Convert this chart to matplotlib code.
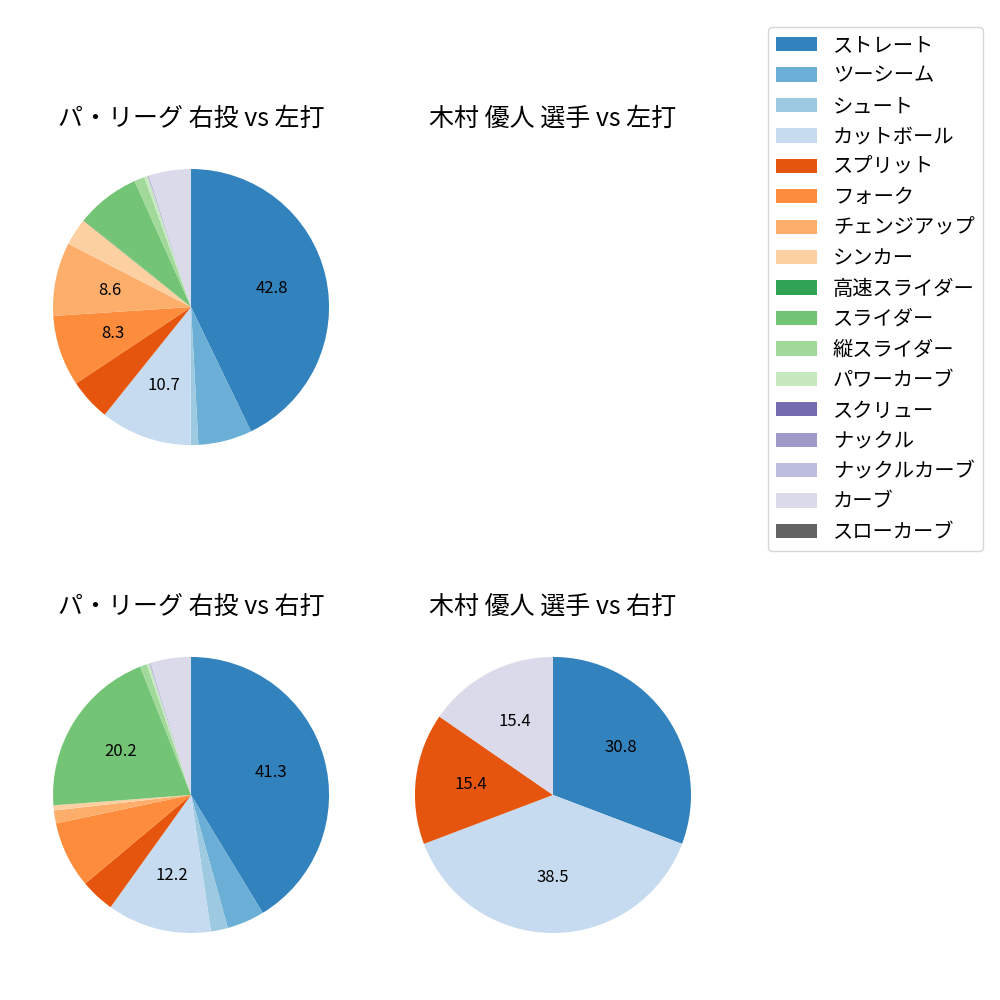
import matplotlib.pyplot as plt
from matplotlib.patches import Patch

plt.rcParams["font.family"] = ["Noto Sans CJK JP", "DejaVu Sans"]

pitch_types = [
    "ストレート", "ツーシーム", "シュート", "カットボール", "スプリット",
    "フォーク", "チェンジアップ", "シンカー", "高速スライダー", "スライダー",
    "縦スライダー", "パワーカーブ", "スクリュー", "ナックル", "ナックルカーブ",
    "カーブ", "スローカーブ",
]

# percentages (order follows pitch_types)
league_vs_left = [42.8, 6.3, 0.9, 10.7, 4.9, 8.3, 8.6, 3.2, 0.1, 7.4,
                  1.2, 0.4, 0.0, 0.0, 0.2, 4.9, 0.0]
player_vs_left = [0] * 17
league_vs_right = [41.3, 4.4, 2.0, 12.2, 4.0, 7.8, 1.5, 0.6, 0.0, 20.2,
                   0.8, 0.3, 0.0, 0.0, 0.2, 4.7, 0.0]
player_vs_right = [4, 0, 0, 5, 2, 0, 0, 0, 0, 0, 0, 0, 0, 0, 0, 2, 0]

titles = [
    "パ・リーグ 右投 vs 左打", "木村 優人 選手 vs 左打",
    "パ・リーグ 右投 vs 右打", "木村 優人 選手 vs 右打",
]
series = [league_vs_left, player_vs_left, league_vs_right, player_vs_right]

colors = [plt.cm.tab20c(i) for i in range(len(pitch_types))]


def pct_label(p):
    return f"{p:.1f}" if p >= 8 else ""


fig, axes = plt.subplots(2, 2, figsize=(10, 10))
fig.subplots_adjust(left=0.0185, right=0.7255, bottom=0.0325, top=0.8655,
                    wspace=0.049, hspace=0.414)

for ax, title, vals in zip(axes.flat, titles, series):
    if sum(vals) > 0:
        ax.pie(vals, colors=colors, startangle=90, counterclock=False,
               autopct=pct_label, pctdistance=0.6,
               textprops={"fontsize": 12})
    else:
        ax.axis("off")
    ax.set_title(title, fontsize=18)

handles = [Patch(facecolor=c, label=name) for c, name in zip(colors, pitch_types)]
fig.legend(handles=handles, loc="upper right", bbox_to_anchor=(0.993, 0.983),
           fontsize=14.6, labelspacing=0.465)

plt.savefig("out.png", dpi=100)
